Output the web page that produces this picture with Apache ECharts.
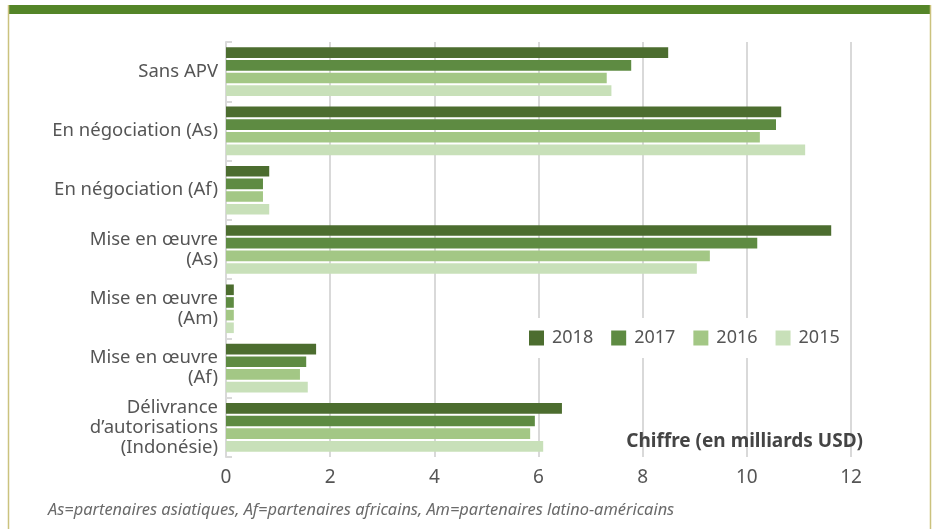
<!DOCTYPE html>
<html>
<head>
<meta charset="utf-8">
<script src="https://cdn.jsdelivr.net/npm/echarts@6/dist/echarts.min.js"></script>
<style>
  html, body { margin: 0; padding: 0; background: #ffffff; }
  #chart { width: 935px; height: 529px; }
</style>
</head>
<body>
<div id="chart"></div>
<script>
// Categories (top to bottom)
const categories = [
  'Sans APV',
  'En négociation (As)',
  'En négociation (Af)',
  'Mise en œuvre\n(As)',
  'Mise en œuvre\n(Am)',
  'Mise en œuvre\n(Af)',
  'Délivrance\nd’autorisations\n(Indonésie)'
];

// Values in billions USD, per year
const values2018 = [8.49, 10.66, 0.83, 11.62, 0.15, 1.73, 6.45];
const values2017 = [7.78, 10.56, 0.71, 10.20, 0.15, 1.54, 5.93];
const values2016 = [7.31, 10.25, 0.71, 9.29, 0.15, 1.42, 5.84];
const values2015 = [7.40, 11.12, 0.83, 9.04, 0.15, 1.57, 6.09];

const years = ['2018', '2017', '2016', '2015'];
const xTicks = [0, 2, 4, 6, 8, 10, 12];

const colors = ['#4c6d2f', '#5e8b42', '#a3c785', '#c8e0b9'];
const seriesValues = [values2018, values2017, values2016, values2015];

const font = '"Noto Sans", sans-serif';

const chart = echarts.init(document.getElementById('chart'));

chart.setOption({
  animation: false,
  backgroundColor: '#ffffff',
  grid: { left: 226, right: 84, top: 42, bottom: 72, containLabel: false },
  title: {
    text: 'Chiffre (en milliards USD)',
    right: 72,
    top: 432,
    padding: 0,
    textStyle: { fontFamily: font, fontSize: 19, fontWeight: 'bold', color: '#444444' }
  },
  legend: {
    data: years,
    left: 520,
    top: 318,
    padding: [11, 8, 11, 9],
    backgroundColor: '#ffffff',
    itemWidth: 15,
    itemHeight: 15,
    itemGap: 18,
    icon: 'rect',
    textStyle: { fontFamily: font, fontSize: 18, color: '#555555', padding: [0, 0, 0, 3] }
  },
  xAxis: {
    type: 'value',
    min: 0,
    max: 12,
    interval: 2,
    axisLine: { show: false },
    axisTick: { show: false },
    splitLine: { lineStyle: { color: '#d9d9d9', width: 2 } },
    axisLabel: {
      fontFamily: font, fontSize: 19, color: '#555555', margin: 11,
      formatter: v => xTicks.indexOf(v) >= 0 ? String(v) : ''
    }
  },
  yAxis: {
    type: 'category',
    data: categories,
    inverse: true,
    axisLine: { show: true, lineStyle: { color: '#d9d9d9', width: 2 } },
    axisTick: { show: true, inside: true, length: 6, lineStyle: { color: '#d9d9d9', width: 2 } },
    axisLabel: {
      fontFamily: font, fontSize: 18.5, color: '#555555', margin: 8,
      lineHeight: 20, align: 'right'
    }
  },
  series: years.map((y, i) => ({
    name: y,
    type: 'bar',
    data: seriesValues[i],
    itemStyle: { color: colors[i] },
    barCategoryGap: '18%',
    barGap: '19%'
  })),
  graphic: [
    // frame: green top band and thin side rules
    { type: 'rect', shape: { x: 8, y: 5, width: 923, height: 9 }, style: { fill: '#548528' }, z: 100 },
    { type: 'line', shape: { x1: 8.5, y1: 5, x2: 8.5, y2: 529 }, style: { stroke: '#cbc27e', lineWidth: 1.5 }, z: 100 },
    { type: 'line', shape: { x1: 930.5, y1: 5, x2: 930.5, y2: 529 }, style: { stroke: '#cbc27e', lineWidth: 1.5 }, z: 100 },
    {
      type: 'text', left: 48, top: 502,
      style: {
        text: 'As=partenaires asiatiques, Af=partenaires africains, Am=partenaires latino-américains',
        font: 'italic 16.4px ' + font, fill: '#6a6a6a'
      }
    }
  ]
});
</script>
</body>
</html>
